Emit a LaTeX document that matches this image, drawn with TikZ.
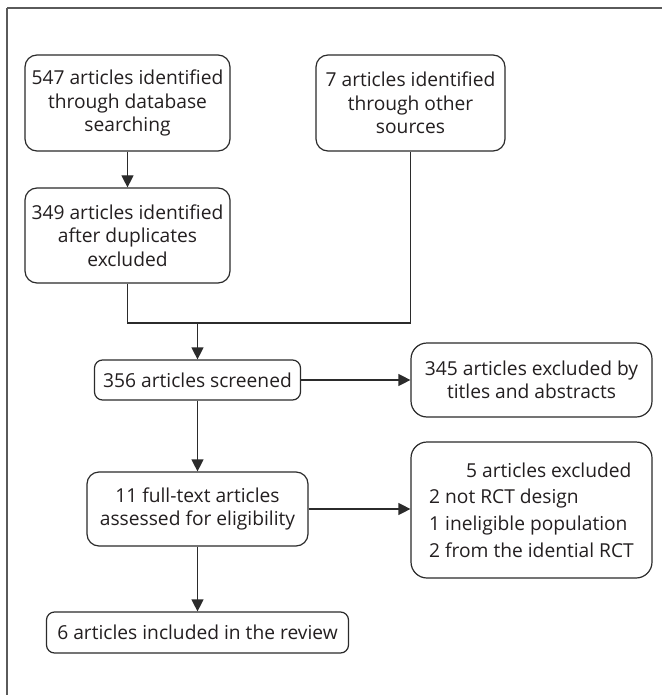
\documentclass[tikz,border=0pt]{standalone}
\usepackage{fontspec}
\setmainfont{Open Sans}
\usetikzlibrary{arrows.meta}
\definecolor{boxc}{HTML}{2B2B2B}
\definecolor{txtc}{HTML}{231F20}
\definecolor{framec}{HTML}{5A5A5A}
\begin{document}
\begin{tikzpicture}[x=0.75pt,y=-0.75pt,
  box/.style={draw=boxc, line width=0.9pt, rounded corners=9pt, align=center, inner sep=0pt, text=txtc, font=\fontsize{14.4pt}{17.5pt}\selectfont},
  arr/.style={draw=boxc, line width=0.9pt, -{Triangle[length=9pt,width=9pt]}},
  ln/.style={draw=boxc, line width=0.9pt}]
\useasboundingbox (0,0) rectangle (662,695);
\fill[white] (0,0) rectangle (662,695);
% frame
\draw[framec, line width=1.5pt] (7,8) -- (662,8);
\draw[framec, line width=1pt] (7,8) -- (7,695);
% nodes
\node[box, minimum width=153.75pt, minimum height=72pt] (A) at (127.5,103) {547 articles identified\\through database\\searching};
\node[box, minimum width=141.75pt, minimum height=72pt] (B) at (410.5,103) {7 articles identified\\through other\\sources};
\node[box, minimum width=153.75pt, minimum height=71.25pt] (C) at (127.5,235.5) {349 articles identified\\after duplicates\\excluded};
\node[box, rounded corners=6pt, minimum width=154.5pt, minimum height=30pt] (D) at (197.5,380) {356 articles screened};
\node[box, rounded corners=12pt, minimum width=180.75pt, minimum height=55.5pt] (E) at (531.5,380) {345 articles excluded by\\titles and abstracts};
\node[box, minimum width=165.75pt, minimum height=55.5pt] (F) at (197.5,509) {11 full-text articles\\assessed for eligibility};
\node[box, rounded corners=12pt, align=left, minimum width=180.75pt, minimum height=102pt, font=\fontsize{14.4pt}{20pt}\selectfont] (G) at (531.5,510) {\hspace*{27.75pt}5 articles excluded\\2 not RCT design\\1 ineligible population\\2 from the idential RCT};
\node[box, rounded corners=6pt, minimum width=226.5pt, minimum height=30.75pt] (H) at (197.5,632.5) {6 articles included in the review};
\coordinate (J) at (197.5,323);
% connectors
\draw[arr] (A) -- (C);
\draw[ln] (C.south) |- (J) -| (B.south);
\draw[arr] (J) -- (D);
\draw[arr] (D) -- (E);
\draw[arr] (D) -- (F);
\draw[arr] (F.east) -- (F.east -| G.west);
\draw[arr] (F) -- (H);
\end{tikzpicture}
\end{document}
